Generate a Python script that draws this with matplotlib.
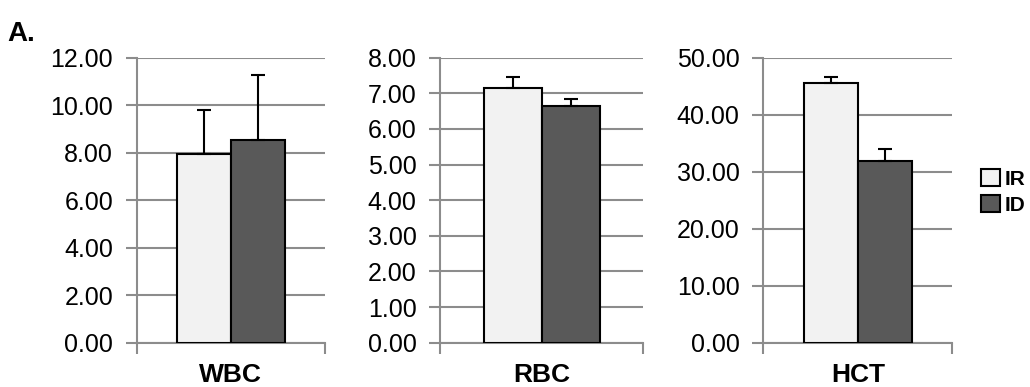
import numpy as np
import matplotlib.pyplot as plt

plt.rcParams['font.family'] = ['Liberation Sans', 'DejaVu Sans']

# data
panels = ["WBC", "RBC", "HCT"]
groups = ["IR", "ID"]
ir_means = [7.95, 7.16, 45.5]
ir_errs = [1.84, 0.29, 1.2]
id_means = [8.54, 6.64, 31.8]
id_errs = [2.74, 0.20, 2.1]
y_max = [12.0, 8.0, 50.0]
y_step = [2.0, 1.0, 10.0]

colors = ["#f2f2f2", "#595959"]
grid_col = "#8c8c8c"

fig = plt.figure(figsize=(10.3, 3.87), dpi=100)
lefts = [0.1327, 0.4272, 0.7411]
widths = [0.1828, 0.1974, 0.1835]

w = 0.286
for i, name in enumerate(panels):
    ax = fig.add_axes([lefts[i], 0.1145, widths[i], 0.7364])
    vals = [ir_means[i], id_means[i]]
    errs = [ir_errs[i], id_errs[i]]
    xs = [0.5 - w / 2, 0.5 + w / 2]
    for j in range(2):
        ax.bar(xs[j], vals[j], width=w, color=colors[j], edgecolor="black",
               linewidth=1.5, zorder=3, label=groups[j])
        ax.errorbar(xs[j], vals[j], yerr=[[0], [errs[j]]], fmt="none",
                    ecolor="black", elinewidth=1.5, capsize=5, capthick=1.5,
                    zorder=4)
    ax.set_xlim(0, 1)
    ax.set_ylim(0, y_max[i])
    ax.set_yticks(np.arange(0, y_max[i] + 0.001, y_step[i]))
    ax.set_yticklabels(["%.2f" % v for v in ax.get_yticks()])
    ax.yaxis.grid(True, color=grid_col, linewidth=1.5, zorder=0)
    ax.set_xticks([0, 1])
    ax.set_xticklabels(["", ""])
    ax.tick_params(axis="y", length=8, width=1.5, color=grid_col,
                   labelsize=18, pad=9)
    ax.tick_params(axis="x", length=8, width=1.5, color=grid_col)
    for s in ["top", "right"]:
        ax.spines[s].set_visible(False)
    for s in ["left", "bottom"]:
        ax.spines[s].set_color(grid_col)
        ax.spines[s].set_linewidth(1.5)
    ax.text(0.5, -0.072, name, transform=ax.transAxes, ha="center",
            va="top", fontsize=19, fontweight="bold")
    if i == 2:
        ax.legend(loc="center left", bbox_to_anchor=(1.05, 0.53),
                  frameon=False, handlelength=0.93, handleheight=0.93,
                  handletextpad=0.25, labelspacing=0.29,
                  prop={"weight": "bold", "size": 15})

fig.text(0.007, 0.912, "A.", fontsize=20, fontweight="bold", va="center")

fig.savefig("out.png", dpi=100)
